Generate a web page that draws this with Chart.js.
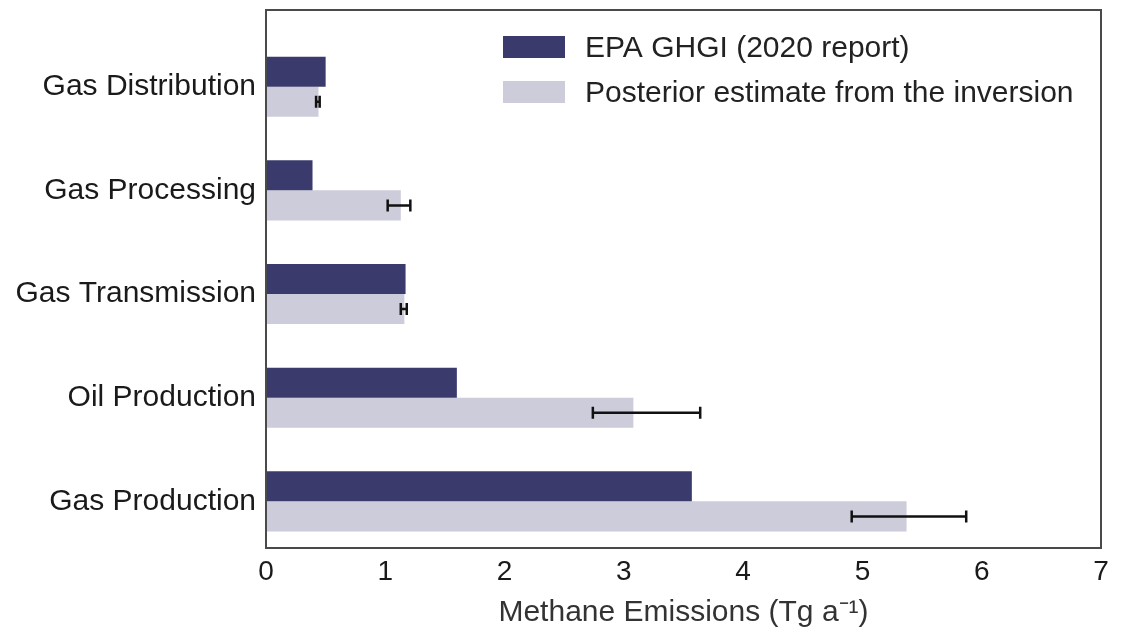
<!DOCTYPE html>
<html>
<head>
<meta charset="utf-8">
<script src="https://cdn.jsdelivr.net/npm/chart.js@4.4.1/dist/chart.umd.min.js"></script>
<style>
  html, body { margin: 0; padding: 0; background: #fff; }
  #wrap { width: 1124px; height: 631px; }
</style>
</head>
<body>
<div id="wrap"><canvas id="emissionsChart" width="1124" height="631"></canvas></div>
<script>
const sectors = ["Gas Distribution", "Gas Processing", "Gas Transmission", "Oil Production", "Gas Production"];
const epaGhgi = [0.50, 0.39, 1.17, 1.60, 3.57];
const posterior = [0.44, 1.13, 1.16, 3.08, 5.37];
const posteriorLow = [0.42, 1.02, 1.13, 2.74, 4.91];
const posteriorHigh = [0.45, 1.21, 1.18, 3.64, 5.87];
const xTicks = [0, 1, 2, 3, 4, 5, 6, 7];

const FONT = '"Liberation Sans", Arial, sans-serif';

// frame round the plot area
const framePlugin = {
  id: 'frame',
  afterDraw(chart) {
    const { ctx, chartArea: a } = chart;
    ctx.save();
    ctx.strokeStyle = '#4a4a4a';
    ctx.lineWidth = 2;
    ctx.strokeRect(a.left, a.top, a.right - a.left, a.bottom - a.top);
    ctx.restore();
  }
};

// error bars on the posterior bars
const errorBarPlugin = {
  id: 'errorBars',
  afterDatasetsDraw(chart) {
    const ctx = chart.ctx;
    const xs = chart.scales.x;
    const meta = chart.getDatasetMeta(1);
    ctx.save();
    ctx.strokeStyle = '#111';
    ctx.lineWidth = 2.5;
    meta.data.forEach((bar, i) => {
      const x1 = xs.getPixelForValue(posteriorLow[i]);
      const x2 = xs.getPixelForValue(posteriorHigh[i]);
      const y = bar.y;
      ctx.beginPath();
      ctx.moveTo(x1, y); ctx.lineTo(x2, y);
      ctx.moveTo(x1, y - 6); ctx.lineTo(x1, y + 6);
      ctx.moveTo(x2, y - 6); ctx.lineTo(x2, y + 6);
      ctx.stroke();
    });
    ctx.restore();
  }
};

// legend inside the plot, top right
const innerLegend = {
  id: 'innerLegend',
  afterDraw(chart) {
    const ctx = chart.ctx;
    ctx.save();
    ctx.font = '30px ' + FONT;
    ctx.textBaseline = 'middle';
    chart.data.datasets.forEach((ds, i) => {
      const y = 47 + i * 45;
      ctx.fillStyle = ds.backgroundColor;
      ctx.fillRect(503, y - 11, 62, 22);
      ctx.fillStyle = '#222';
      ctx.fillText(ds.label, 585, y + 2);
    });
    ctx.restore();
  }
};

new Chart(document.getElementById('emissionsChart'), {
  type: 'bar',
  data: {
    datasets: [
      {
        label: 'EPA GHGI (2020 report)',
        data: sectors.map((s, i) => ({ x: epaGhgi[i], y: i })),
        backgroundColor: '#3b3a6d'
      },
      {
        label: 'Posterior estimate from the inversion',
        data: sectors.map((s, i) => ({ x: posterior[i], y: i })),
        backgroundColor: '#cdccda'
      }
    ]
  },
  options: {
    indexAxis: 'y',
    responsive: false,
    animation: false,
    devicePixelRatio: 1,
    categoryPercentage: 0.58,
    barPercentage: 1,
    layout: { padding: { top: 10, right: 23, left: 0, bottom: 0 } },
    plugins: {
      legend: { display: false },
      tooltip: { enabled: false }
    },
    scales: {
      x: {
        type: 'linear',
        min: 0,
        max: 7,
        afterBuildTicks: scale => { scale.ticks = xTicks.map(v => ({ value: v })); },
        afterFit: scale => { scale.height = 83; },
        grid: { display: false, drawTicks: false },
        border: { display: false },
        ticks: { color: '#1a1a1a', font: { family: FONT, size: 28 }, padding: 7 },
        title: {
          display: true,
          text: 'Methane Emissions (Tg a\u207B\u00B9)',
          color: '#333',
          font: { family: FONT, size: 30 },
          padding: { top: 0, bottom: 0 }
        }
      },
      y: {
        type: 'linear',
        reverse: true,
        offset: false,
        min: -0.74,
        max: 4.45,
        afterBuildTicks: scale => { scale.ticks = sectors.map((s, i) => ({ value: i })); },
        afterFit: scale => { scale.width = 266; scale.paddingTop = 0; scale.paddingBottom = 0; },
        grid: { display: false, drawTicks: false, offset: false },
        border: { display: false },
        ticks: {
          color: '#1a1a1a',
          font: { family: FONT, size: 30, lineHeight: 0.05 },
          padding: 10,
          callback: v => sectors[v]
        }
      }
    }
  },
  plugins: [errorBarPlugin, framePlugin, innerLegend]
});
</script>
</body>
</html>
